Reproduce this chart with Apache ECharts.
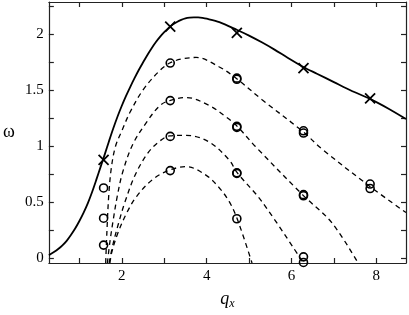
<!DOCTYPE html>
<html><head><meta charset="utf-8">
<script src="https://cdn.jsdelivr.net/npm/echarts@6/dist/echarts.min.js"></script>
<style>html,body{margin:0;padding:0;background:#fff}#c{width:409px;height:315px}</style>
</head><body><div id="c"></div>
<script>
// Solid curve (q, omega)
const solidCurve = [[0.28,0.03],[0.4,0.058],[0.5,0.085],[0.6,0.118],[0.7,0.158],[0.8,0.21],[0.9,0.268],[1.0,0.335],[1.1,0.41],[1.2,0.495],[1.3,0.594],[1.4,0.704],[1.5,0.818],[1.6,0.932],[1.7,1.05],[1.8,1.163],[1.9,1.268],[2.0,1.364],[2.1,1.452],[2.2,1.533],[2.3,1.61],[2.4,1.683],[2.5,1.75],[2.6,1.815],[2.7,1.875],[2.8,1.93],[2.9,1.978],[3.0,2.02],[3.1,2.057],[3.2,2.088],[3.3,2.112],[3.4,2.13],[3.5,2.143],[3.6,2.15],[3.7,2.153],[3.8,2.152],[3.9,2.148],[4.0,2.141],[4.3,2.11],[4.72,2.04],[5.0,1.99],[5.3,1.93],[5.6,1.865],[5.9,1.795],[6.28,1.71],[6.6,1.65],[7.0,1.575],[7.4,1.50],[7.85,1.425],[8.3,1.335],[8.7,1.245]];
// Dashed curves
const dashA = [[1.62,-0.04],[1.65,0.25],[1.69,0.55],[1.75,0.80],[1.85,1.00],[2.0,1.14],[2.2,1.31],[2.51,1.51],[2.9,1.68],[3.13,1.745],[3.4,1.78],[3.75,1.795],[4.3,1.71],[4.71,1.605],[5.3,1.42],[6.28,1.13],[6.71,0.98],[7.84,0.646],[8.7,0.41]];
const dashB = [[1.66,-0.04],[1.72,0.15],[1.80,0.35],[1.89,0.55],[2.02,0.77],[2.26,1.02],[2.59,1.22],[2.9,1.366],[3.13,1.41],[3.52,1.437],[4.06,1.366],[4.45,1.266],[4.72,1.18],[5.15,1.00],[6.27,0.566],[6.95,0.32],[7.57,-0.04]];
const dashC = [[1.70,-0.04],[1.80,0.14],[1.92,0.31],[2.07,0.50],[2.32,0.75],[2.63,0.95],[2.9,1.05],[3.13,1.095],[3.52,1.10],[4.06,1.04],[4.53,0.88],[4.72,0.766],[5.30,0.51],[6.28,-0.04]];
const dashD = [[1.72,-0.04],[1.76,0.05],[1.89,0.21],[2.12,0.41],[2.36,0.56],[2.74,0.71],[3.13,0.79],[3.52,0.82],[4.0,0.74],[4.30,0.63],[4.53,0.51],[4.72,0.355],[5.07,-0.04]];
// Crosses
const crossPts = [[1.5708,0.88],[3.1416,2.07],[4.7124,2.015],[6.2832,1.70],[7.854,1.43]];
// Circles
const circlePts = [[1.5708,0.63],[1.5708,0.36],[1.5708,0.12],
  [3.1416,1.745],[3.1416,1.41],[3.1416,1.09],[3.1416,0.785],
  [4.7124,1.60],[4.7124,1.61],[4.7124,1.18],[4.7124,1.17],[4.7124,0.765],[4.7124,0.76],[4.7124,0.355],
  [6.2832,1.14],[6.2832,1.12],[6.2832,0.57],[6.2832,0.56],[6.2832,0.015],[6.2832,-0.035],
  [7.854,0.665],[7.854,0.625]];
const xLabels = [2,4,6,8];
const xTicks = [1,2,3,4,5,6,7,8];
const yLabels = [0,0.5,1,1.5,2];
const yTicks = [0,0.25,0.5,0.75,1,1.25,1.5,1.75,2,2.25];

const font = 'Liberation Serif';
const ax = {color:'#222', width:1.2};
function xAx(pos, show){
  return {type:'value', position:pos, min:0.28, max:8.7,
    axisLine:{onZero:false, lineStyle:ax},
    axisTick:{show:true, inside:true, length:5, lineStyle:ax, customValues:xTicks},
    axisLabel:{show:show, customValues:xLabels, fontFamily:font, fontSize:15, color:'#000', margin:6},
    splitLine:{show:false}};
}
function yAx(pos, show){
  return {type:'value', position:pos, min:-0.04, max:2.29,
    axisLine:{onZero:false, lineStyle:ax},
    axisTick:{show:true, inside:true, length:5, lineStyle:ax, customValues:yTicks},
    axisLabel:{show:show, customValues:yLabels, fontFamily:font, fontSize:15, color:'#000', margin:5},
    splitLine:{show:false}};
}
const xb = xAx('bottom', true);
xb.name = '{q|q}{s|x}'; xb.nameLocation='middle'; xb.nameGap=26;
xb.nameTextStyle = {rich:{q:{fontFamily:font, fontStyle:'italic', fontSize:18, color:'#000'}, s:{fontFamily:font, fontStyle:'italic', fontSize:12, color:'#000', padding:[9,0,0,0]}}};
const yl = yAx('left', true);
yl.name = 'ω'; yl.nameLocation='middle'; yl.nameGap=34; yl.nameRotate=0;
yl.nameTextStyle = {fontFamily:font, fontSize:18, color:'#000'};

const dashStyle = {color:'#000', width:1.3, type:[5,4]};
function dashed(d){ return {type:'line', data:d, smooth:0.35, showSymbol:false, symbol:'none', lineStyle:dashStyle, silent:true, z:2}; }

const chart = echarts.init(document.getElementById('c'), null, {renderer:'canvas'});
chart.setOption({
  animation:false,
  grid:{left:44, right:3, top:2, bottom:41, containLabel:false},
  xAxis:[xb, xAx('top', false)],
  yAxis:[yl, yAx('right', false)],
  series:[
    {type:'line', data:solidCurve, smooth:0.3, symbol:'none', lineStyle:{color:'#000', width:1.8}, z:3},
    dashed(dashA), dashed(dashB), dashed(dashC), dashed(dashD),
    {type:'scatter', data:crossPts, symbol:'path://M0,0L10,10M10,0L0,10', symbolSize:10,
      itemStyle:{color:'none', borderColor:'#000', borderWidth:1.8, opacity:1}, z:5},
    {type:'scatter', data:circlePts, symbol:'circle', symbolSize:8,
      itemStyle:{color:'rgba(0,0,0,0)', borderColor:'#000', borderWidth:1.6, opacity:1}, z:5}
  ]
});
</script></body></html>
